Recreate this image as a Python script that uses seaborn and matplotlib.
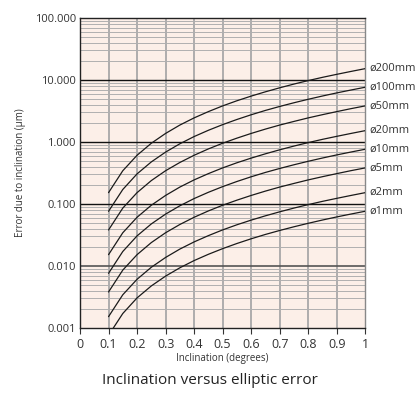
import numpy as np
import pandas as pd
import matplotlib
matplotlib.use("Agg")
import matplotlib.pyplot as plt
from matplotlib.ticker import FixedLocator, LogLocator, NullFormatter
import seaborn as sns

sns.set_style("white")
plt.rcParams['font.family'] = ['Open Sans', 'DejaVu Sans']

# Data (error in µm vs inclination in degrees)
INCLINATION = [0.1, 0.15, 0.2, 0.25, 0.3, 0.35, 0.4, 0.45, 0.5, 0.55,
               0.6, 0.65, 0.7, 0.75, 0.8, 0.85, 0.9, 0.95, 1.0]
LABELS = ["ø1mm", "ø2mm", "ø5mm", "ø10mm", "ø20mm", "ø50mm", "ø100mm", "ø200mm"]
ERR_1 = [0.00076, 0.00171, 0.00305, 0.00476, 0.00685, 0.00933, 0.0122, 0.0154, 0.0190, 0.0230,
         0.0274, 0.0322, 0.0373, 0.0428, 0.0487, 0.0550, 0.0617, 0.0687, 0.0762]
ERR_2 = [0.00152, 0.00343, 0.00609, 0.00952, 0.0137, 0.0187, 0.0244, 0.0308, 0.0381, 0.0461,
         0.0548, 0.0643, 0.0746, 0.0857, 0.0975, 0.110, 0.123, 0.137, 0.152]
ERR_5 = [0.0038, 0.00857, 0.0152, 0.0238, 0.0343, 0.0466, 0.0609, 0.0771, 0.0952, 0.115,
         0.137, 0.161, 0.187, 0.214, 0.244, 0.275, 0.308, 0.344, 0.381]
ERR_10 = [0.0076, 0.0171, 0.0305, 0.0476, 0.0685, 0.0933, 0.122, 0.154, 0.190, 0.230,
          0.274, 0.322, 0.373, 0.428, 0.487, 0.550, 0.617, 0.687, 0.762]
ERR_20 = [0.0152, 0.0343, 0.0609, 0.0952, 0.137, 0.187, 0.244, 0.308, 0.381, 0.461,
          0.548, 0.643, 0.746, 0.857, 0.975, 1.10, 1.23, 1.37, 1.52]
ERR_50 = [0.038, 0.0857, 0.152, 0.238, 0.343, 0.466, 0.609, 0.771, 0.952, 1.15,
          1.37, 1.61, 1.87, 2.14, 2.44, 2.75, 3.08, 3.44, 3.81]
ERR_100 = [0.076, 0.171, 0.305, 0.476, 0.685, 0.933, 1.22, 1.54, 1.90, 2.30,
           2.74, 3.22, 3.73, 4.28, 4.87, 5.50, 6.17, 6.87, 7.62]
ERR_200 = [0.152, 0.343, 0.609, 0.952, 1.37, 1.87, 2.44, 3.08, 3.81, 4.61,
           5.48, 6.43, 7.46, 8.57, 9.75, 11.0, 12.3, 13.7, 15.2]
SERIES = [ERR_1, ERR_2, ERR_5, ERR_10, ERR_20, ERR_50, ERR_100, ERR_200]

X_TICKS = [0, 0.1, 0.2, 0.3, 0.4, 0.5, 0.6, 0.7, 0.8, 0.9, 1]
X_TICK_LABELS = ["0", "0.1", "0.2", "0.3", "0.4", "0.5", "0.6", "0.7", "0.8", "0.9", "1"]
Y_TICKS = [0.001, 0.01, 0.1, 1, 10, 100]
Y_TICK_LABELS = ["0.001", "0.010", "0.100", "1.000", "10.000", "100.000"]

rows = []
for lab, vals in zip(LABELS, SERIES):
    for x, v in zip(INCLINATION, vals):
        rows.append({"inclination": x, "error": v, "dia": lab})
df = pd.DataFrame(rows)

fig = plt.figure(figsize=(4.2, 3.98), dpi=100)
ax = fig.add_axes([0.1905, 0.176, 0.679, 0.779])
ax.set_facecolor("#fcefe8")

ax.set_yscale("log")
ax.set_xlim(0, 1)
ax.set_ylim(0.001, 100)

# grid
for x in X_TICKS[1:-1]:
    ax.axvline(x, color="#a8a8a8", lw=1.3, zorder=1)
for dec in [0.001, 0.01, 0.1, 1, 10]:
    for m in range(2, 10):
        ax.axhline(dec * m, color="#b0b0b0", lw=0.7, zorder=1)
for y in [10, 1, 0.1]:
    ax.axhline(y, color="#111111", lw=1.0, zorder=2)
ax.axhline(0.01, color="#555555", lw=1.2, zorder=2)

sns.lineplot(data=df, x="inclination", y="error", hue="dia",
             palette=["#1a1a1a"] * len(LABELS), legend=False,
             lw=0.9, ax=ax, zorder=3)

for lab, vals in zip(LABELS, SERIES):
    ax.text(1.015, vals[-1], lab, transform=ax.get_yaxis_transform(),
            fontsize=8, color="#333333", va="center", ha="left", clip_on=False)

ax.xaxis.set_major_locator(FixedLocator(X_TICKS))
ax.set_xticklabels(X_TICK_LABELS)
ax.yaxis.set_major_locator(FixedLocator(Y_TICKS))
ax.set_yticklabels(Y_TICK_LABELS)
ax.yaxis.set_minor_locator(LogLocator(base=10, subs=np.arange(2, 10)))
ax.yaxis.set_minor_formatter(NullFormatter())
ax.tick_params(axis="x", which="major", length=4, width=0.8, color="#333333",
               labelsize=9, labelcolor="#333333", pad=3, direction="out", bottom=True)
ax.tick_params(axis="y", which="major", length=0, labelsize=8, labelcolor="#333333", pad=3)
ax.tick_params(axis="y", which="minor", length=0)

for side in ["left", "bottom", "top"]:
    ax.spines[side].set_color("#222222")
    ax.spines[side].set_linewidth(1.0)
ax.spines["right"].set_color("#888888")
ax.spines["right"].set_linewidth(1.0)

ax.set_xlabel("Inclination (degrees)", fontsize=7, color="#333333", labelpad=2)
ax.set_ylabel("Error due to inclination (µm)", fontsize=7, color="#333333", labelpad=6)

fig.text(0.5, 0.045, "Inclination versus elliptic error", ha="center", va="center",
         fontsize=11, color="#222222")

fig.savefig("out.png", dpi=100)
